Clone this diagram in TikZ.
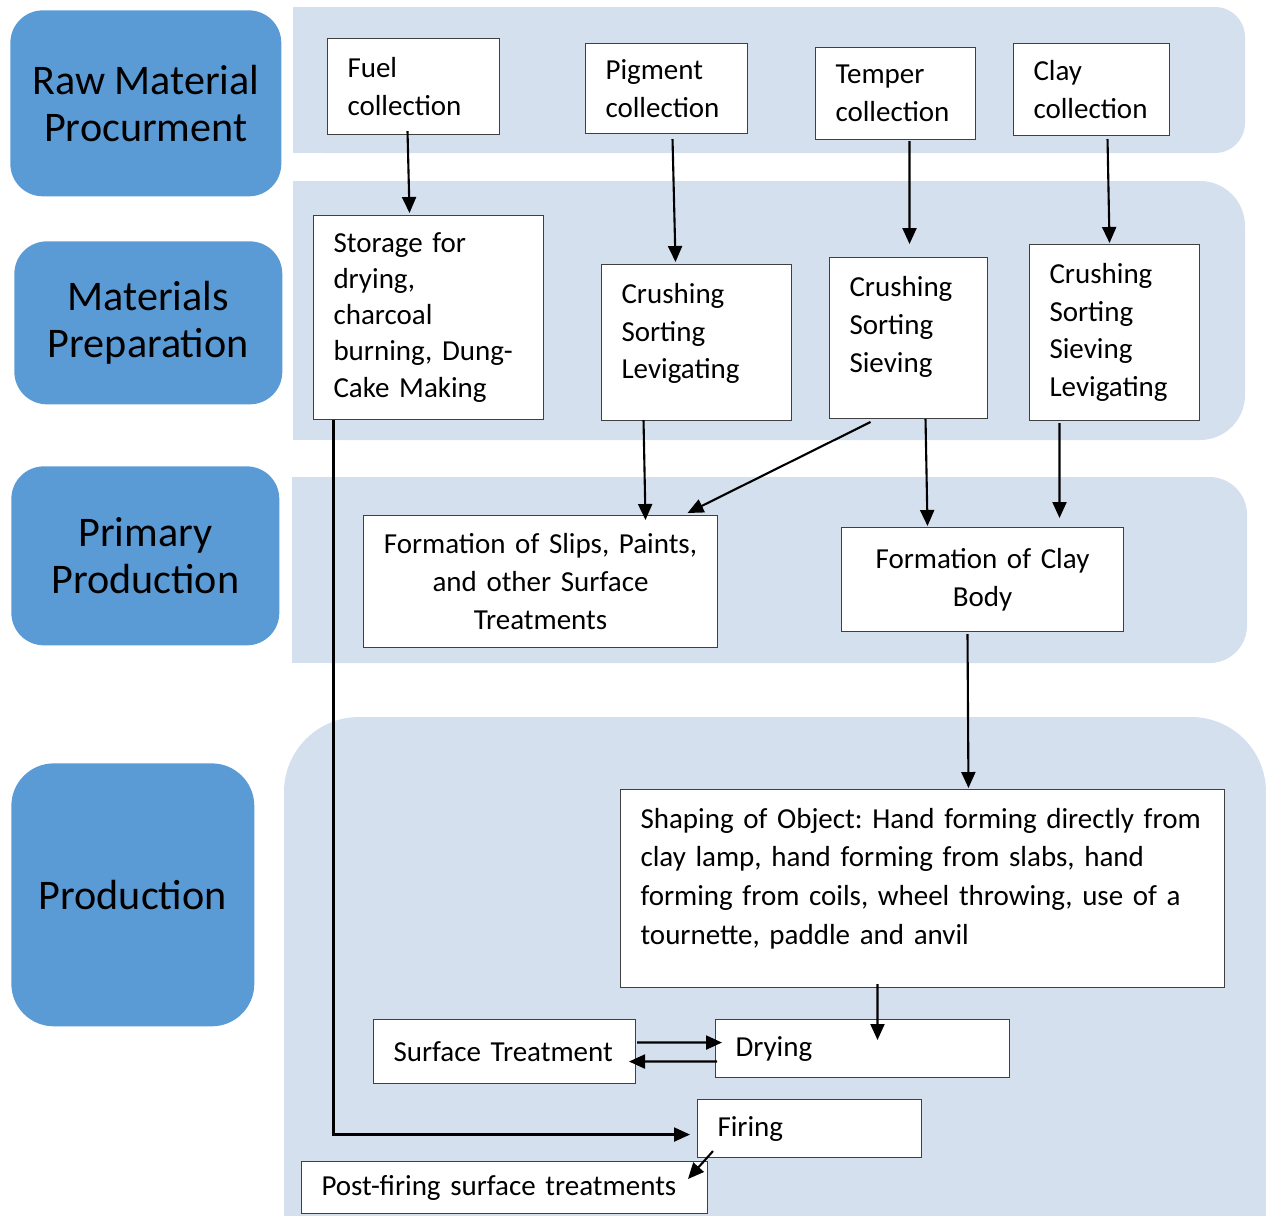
\documentclass[tikz,border=0pt]{standalone}
\usepackage{fontspec}
\setmainfont{Carlito}
\frenchspacing
\usetikzlibrary{arrows.meta,calc}
\definecolor{stagefill}{HTML}{5B9BD5}
\definecolor{bandfill}{HTML}{D5E0EF}

\begin{document}
\begin{tikzpicture}[x=0.02cm,y=-0.02cm,
  stage/.style={fill=stagefill,rounded corners=0.65cm,anchor=north west,align=center,inner sep=0pt,font=\fontsize{24}{26.5}\selectfont},
  box/.style={draw=black!75,line width=0.6pt,fill=white,anchor=north west,align=left,inner xsep=0.4cm,inner ysep=0pt,font=\fontsize{16.5}{21.5}\selectfont},
  cbox/.style={box,align=center},
  arr/.style={-{Triangle[length=3.2mm,width=2.8mm]},line width=1.2pt}]
\useasboundingbox (0,0) rectangle (1266,1215);
% bands
\begin{scope}
\clip (0,0) rectangle (1266,1215);
\fill[bandfill,rounded corners=0.6cm] (293,7) rectangle (1245,153);
\fill[bandfill] (293,7) rectangle (900,153);
\fill[bandfill,rounded corners=0.9cm] (293,181) rectangle (1245,440);
\fill[bandfill] (293,181) rectangle (900,440);
\fill[bandfill,rounded corners=0.75cm] (292,477) rectangle (1247,663);
\fill[bandfill] (292,477) rectangle (900,663);
\fill[bandfill,rounded corners=1.5cm] (284,717) rectangle (1266,1300);
\end{scope}
% stages
\node[stage,minimum width=5.42cm,minimum height=3.72cm] (raw) at (10,10) {Raw Material\\Procurment};
\node[stage,minimum width=5.36cm,minimum height=3.26cm] (prep) at (14,241) {Materials\\Preparation};
\node[stage,minimum width=5.36cm,minimum height=3.58cm] (prim) at (11,466) {Primary\\Production};
\node[stage,rounded corners=0.85cm,minimum width=4.86cm,minimum height=5.26cm] (prod) at (11,763) {Production};
% collection
\node[box,text width=2.64cm,minimum height=1.92cm] (fuel) at (327,38) {Fuel\\collection};
\node[box,text width=2.44cm,minimum height=1.80cm] (pigment) at (585,43) {Pigment\\collection};
\node[box,text width=2.40cm,minimum height=1.84cm] (temper) at (815,47) {Temper\\collection};
\node[box,text width=2.32cm,minimum height=1.84cm] (clay) at (1013,43) {Clay\\collection};
% preparation
\node[box,text width=3.80cm,minimum height=4.08cm,font=\fontsize{16.5}{20.5}\selectfont] (storage) at (313,215) {Storage for\\drying,\\charcoal\\burning, Dung-\\Cake Making};
\node[box,text width=3.00cm,minimum height=3.12cm] (pigcrush) at (601,264) {Crushing\\Sorting\\Levigating\rule[-0.46cm]{0pt}{0pt}};
\node[box,text width=2.36cm,minimum height=3.22cm] (tempcrush) at (829,257) {Crushing\\Sorting\\Sieving\rule[-0.54cm]{0pt}{0pt}};
\node[box,text width=2.60cm,minimum height=3.52cm] (claycrush) at (1029,244) {Crushing\\Sorting\\Sieving\\Levigating};
% primary production
\node[cbox,text width=6.28cm,minimum height=2.64cm] (slips) at (363,515) {Formation of Slips, Paints,\\and other Surface\\Treatments};
\node[cbox,text width=4.84cm,minimum height=2.08cm] (body) at (841,527) {Formation of Clay\\Body};
% production
\node[box,text width=11.28cm,minimum height=3.96cm,font=\fontsize{16.5}{22}\selectfont] (shaping) at (620,789) {\mbox{Shaping of Object: Hand forming directly from}\\clay lamp, hand forming from slabs, hand\\forming from coils, wheel throwing, use of a\\tournette, paddle and anvil\rule[-0.5cm]{0pt}{0pt}};
\node[box,text width=4.44cm,minimum height=1.28cm] (surface) at (373,1019) {Surface Treatment};
\node[box,text width=5.08cm,minimum height=1.16cm] (drying) at (715,1019) {Drying};
\node[box,text width=3.68cm,minimum height=1.16cm] (firing) at (697,1099) {Firing};
\node[box,text width=7.32cm,minimum height=1.04cm] (post) at (301,1161) {Post-firing surface treatments};
% arrows
\draw[arr] ($(fuel.south)+(-6,-4)$) -- ($(storage.north)+(-19,-2)$);
\draw[arr] ($(pigment.south)+(6,5)$) -- ($(pigcrush.north)+(-21,-2)$);
\draw[arr] ($(temper.south)+(14,1)$) -- ($(tempcrush.north)+(1,-13)$);
\draw[arr] ($(clay.south)+(16,3)$) -- ($(claycrush.north)+(-5,-1)$);
\draw[arr] ($(pigcrush.south)+(-53,-1)$) -- ($(slips.north)+(105,5)$);
\draw[arr] ($(tempcrush.south)+(-38,3)$) -- ($(slips.north)+(147,-2)$);
\draw[arr] ($(tempcrush.south)+(17,0)$) -- ($(body.north)+(-55,-1)$);
\draw[arr] ($(claycrush.south)+(-55,2)$) -- ($(body.north)+(77,-9)$);
\draw[arr] ($(body.south)+(-15,2)$) -- ($(shaping.north)+(46,-1)$);
\draw[arr] ($(shaping.south)+(-45,-4)$) -- ($(drying.north)+(15,21)$);
\draw[arr] ($(surface.east)+(1,-9)$) -- ($(drying.west)+(7,-6)$);
\draw[arr] ($(drying.west)+(2,13)$) -- ($(surface.east)+(-7,10)$);
\draw[arr] ($(storage.south)+(-95,0)$) |- ($(firing.west)+(-7,6)$);
\draw[arr] ($(firing.south west)+(16,-7)$) -- ($(post.north east)+(-20,18)$);
\end{tikzpicture}
\end{document}
